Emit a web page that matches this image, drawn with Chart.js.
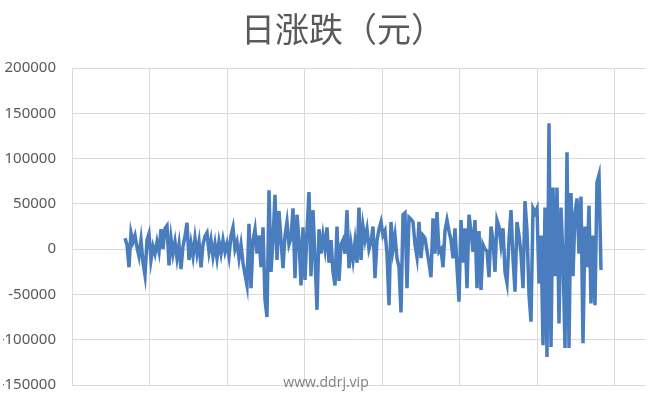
<!DOCTYPE html>
<html>
<head>
<meta charset="utf-8">
<script src="https://cdn.jsdelivr.net/npm/chart.js@4.4.1/dist/chart.umd.min.js"></script>
<style>
  html, body { margin: 0; padding: 0; background: #fff; }
  #wrap { width: 649px; height: 403px; position: relative; }
</style>
</head>
<body>
<div id="wrap"><canvas id="chart-daily"></canvas></div>
<script>
'use strict';

/* ── Data (daily change, thousands of yuan) ── */
const TITLE = '日涨跌（元）';
const WATERMARK = 'www.ddrj.vip';
const Y_TICKS = [-150000, -100000, -50000, 0, 50000, 100000, 150000, 200000];

const dailyK = [
    12, 5, -20, 18, 8, 15, 2, -8, 10, -15,
    -29, 10, 17, -12, 3, -5, 8, -3, 22, 0,
    23, 26, -18, 12, -5, 8, -10, 5, -22, 3,
    14, 29, -12, 6, -8, 12, -5, 8, -20, 5,
    14, 18, -3, 10, -8, 6, -10, 8, -5, 10,
    -3, 6, -8, 15, 24, 0, 8, -10, 5, -15,
    -28, -40, 28, -43, 10, 22, -5, 15, -20, 24,
    -56, -75, 65, -25, 10, 60, -12, 42, 10, -21,
    15, 30, 5, 12, 45, -32, 38, 10, -40, 24,
    -34, 20, 63, -30, 43, -10, -67, 22, -5, 15,
    0, 24, -15, 10, -25, -40, 25, -35, 5, 10,
    -5, 43, -21, 5, -12, 8, -15, 46, -12, 25,
    10, 22, 0, 8, 25, -32, 10, 22, 30, 15,
    20, -5, -62, 30, 0, 15, -10, -20, -70, 38,
    40, -43, 35, 33, 30, 5, -9, 30, -10, 15,
    12, -2, -15, -31, 34, -5, 41, -3, 0, -20,
    20, 32, 20, 10, -10, 23, -20, -58, 32, -15,
    23, -43, 38, 20, -3, 32, -43, 20, -45, 5,
    0, -2, -31, 25, 10, -25, 32, 25, 5, 23,
    -25, -37, 10, 43, -10, -47, 30, 15, -5, -43,
    53, 20, -50, -80, 45, 40, 45, -38, 15, -106,
    46, -119, 139, -108, 68, -30, 68, -82, 46, -10,
    -109, 107, -109, 62, -30, 40, 56, -5, 58, -104,
    25, -20, 48, -60, 15, -62, 74, 82, -23
];

/* ── Axis layout (trading-day index) ────────────────────────── */
const X_MIN = -26.5;
const X_MAX = 260;
const X_GRID_STEP = 38.75;

const LINE_BLUE = '#4a7dbd';
const GRID = '#d9d9d9';
const TEXT = '#595959';

const points = dailyK.map((v, i) => ({ x: i, y: v * 1000 }));

// title + watermark drawn by hand so they sit where the original has them
const textPlugin = {
    id: 'texts',
    afterDraw(chart) {
        const { ctx } = chart;
        ctx.save();
        ctx.textAlign = 'center';
        ctx.textBaseline = 'middle';
        ctx.fillStyle = TEXT;
        ctx.font = '34px "Noto Sans CJK SC", sans-serif';
        ctx.fillText(TITLE, 343, 29);
        ctx.font = '14px "Open Sans", "Noto Sans", sans-serif';
        ctx.fillStyle = '#7f7f7f';
        ctx.fillText(WATERMARK, 326, 383);
        ctx.restore();
    }
};

const config = {
    type: 'line',
    data: {
        datasets: [{
            label: TITLE,
            data: points,
            borderColor: LINE_BLUE,
            borderWidth: 3.5,
            pointRadius: 0,
            tension: 0,
            fill: false,
        }]
    },
    options: {
        responsive: true, maintainAspectRatio: false,
        animation: false,
        layout: { padding: { left: 3, right: 4, top: 68, bottom: 18 } },
        scales: {
            x: {
                type: 'linear', min: X_MIN, max: X_MAX,
                afterBuildTicks: axis => {
                    const t = [];
                    for (let v = X_MIN; v <= X_MAX; v += X_GRID_STEP) t.push({ value: v });
                    axis.ticks = t;
                },
                afterFit: axis => { axis.height = 0; },
                ticks: { display: false },
                grid: { color: GRID, drawTicks: false },
                border: { display: false }
            },
            y: {
                min: -150000, max: 200000,
                afterBuildTicks: axis => { axis.ticks = Y_TICKS.map(v => ({ value: v })); },
                afterFit: axis => {
                    axis.width = 69;
                    axis.paddingTop = 0;
                    axis.paddingBottom = 0;
                },
                ticks: {
                    color: TEXT, padding: 16,
                    font: { family: '"Noto Sans", sans-serif', size: 15 },
                    callback: v => String(v)
                },
                grid: { color: GRID, drawTicks: false },
                border: { display: false }
            }
        },
        plugins: {
            legend: { display: false },
            tooltip: { enabled: false },
            title: { display: false }
        }
    },
    plugins: [textPlugin]
};

new Chart(document.getElementById('chart-daily'), config);
</script>
</body>
</html>
